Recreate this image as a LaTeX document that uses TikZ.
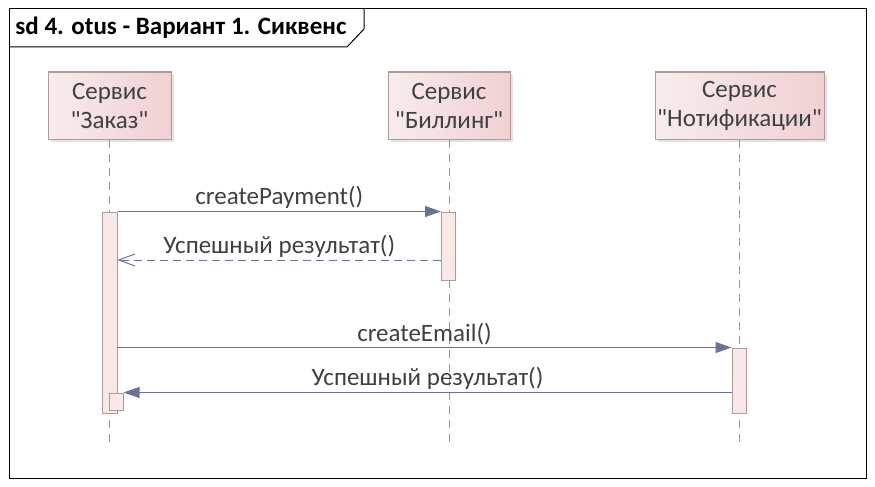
\documentclass[tikz,border=0pt]{standalone}
\usepackage{fontspec}
\setmainfont{Carlito}[Ligatures=TeXOff]
\usetikzlibrary{arrows.meta,shadows,positioning,calc}
\definecolor{boxline}{HTML}{B39A9A}
\definecolor{boxleft}{HTML}{F8ECEC}
\definecolor{boxright}{HTML}{F0D0D3}
\definecolor{barfill}{HTML}{F8E8E8}
\definecolor{msgline}{HTML}{6B7394}
\definecolor{lifegray}{HTML}{A88E8E}
\definecolor{txtgray}{HTML}{404040}
\tikzset{
    lifebox/.style={draw=boxline, left color=boxleft, right color=boxright,
        minimum height=67pt, align=center, text=txtgray, inner sep=0pt,
        font=\fontsize{25}{29}\selectfont,
        drop shadow={shadow xshift=3pt, shadow yshift=-3pt, fill=black!22}},
    actbar/.style={draw=boxline, fill=barfill, minimum width=14pt, inner sep=0pt},
    lifeline/.style={draw=lifegray, dash pattern=on 8pt off 6pt},
    callmsg/.style={draw=msgline, -{Triangle[length=16pt,width=11pt]}},
    retmsg/.style={draw=msgline, dash pattern=on 8pt off 5pt,
        -{Straight Barb[length=16pt,width=12pt]}},
    msglabel/.style={text=txtgray, font=\fontsize{25}{29}\selectfont, above, inner sep=2pt}
}

\begin{document}
\begin{tikzpicture}[x=1pt, y=-1pt, line width=1pt]
    \useasboundingbox (0,0) rectangle (875,487);
    % frame and title tab
    \draw (9,9) rectangle (866,478);
    \draw (364,9) -- (364,29) -- (347,47) -- (9,47);
    \node[anchor=base west, inner sep=0pt, font=\fontsize{25}{29}\selectfont\bfseries] (title) at (15,35) {sd 4. otus - Вариант 1. Сиквенс};

    % lifeline heads
    \node[lifebox, minimum width=123pt] (zakaz) at (109.5,105.5) {Сервис\\"Заказ"};
    \node[lifebox, minimum width=122pt] (billing) at (449,105.5) {Сервис\\"Биллинг"};
    \node[lifebox, minimum width=169pt] (notif) at (739.5,105.5) {Сервис\\"Нотификации"};
    \coordinate (lineend) at (0,443);

    % lifelines
    \draw[lifeline] (zakaz.south) -- (zakaz.south |- lineend);
    \draw[lifeline] (billing.south) -- (billing.south |- lineend);
    \draw[lifeline] (notif.south) -- (notif.south |- lineend);

    % activation bars
    \node[actbar, minimum width=15pt, minimum height=201pt] (zakazbar) at (109.5,312.5) {};
    \node[actbar, minimum height=68pt] (billbar) at (448.5,246) {};
    \node[actbar, minimum height=65pt] (notifbar) at (739,380.5) {};
    \node[actbar, minimum height=17pt] (nested) at (116,401.5) {};

    % messages
    \coordinate (ret1) at (0,260);
    \draw[callmsg] (zakazbar.north east) -- node[msglabel] (m1) {createPayment()} (billbar.north west);
    \draw[retmsg] (billbar.west |- ret1) -- node[msglabel] (m2) {Успешный результат()} (zakazbar.east |- ret1);
    \draw[callmsg] (zakazbar.east |- notifbar.north) -- node[msglabel] (m3) {createEmail()} (notifbar.north west);
    \draw[callmsg] (notifbar.west |- nested.north east) -- node[msglabel] (m4) {Успешный результат()} (nested.north east);
\end{tikzpicture}
\end{document}
